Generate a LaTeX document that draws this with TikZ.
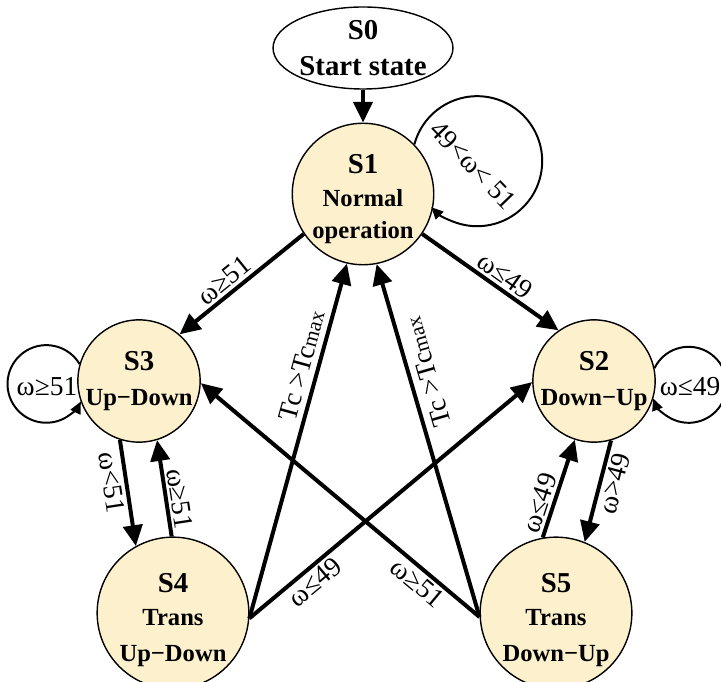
\documentclass[tikz,border=0pt]{standalone}
\usepackage{fontspec}
\setmainfont{Liberation Serif}
\usetikzlibrary{arrows.meta,shapes.geometric}
\definecolor{fsmcream}{RGB}{253,240,204}
\newcommand{\fsmtitlefont}{\linespread{1}\fontsize{20.5}{25}\selectfont\bfseries}
\newcommand{\fsmfont}{\linespread{1}\fontsize{17.5}{23}\selectfont\bfseries}
\newcommand{\fsmcondfont}{\linespread{1}\fontsize{19.5}{22}\selectfont}
\newcommand{\fsmmax}{{\fontsize{15}{17}\selectfont max}}
\tikzset{
    fsm/chart/.style={every node/.style={align=center}},
    fsm/state/.style={circle, draw=black, fill=fsmcream, line width=1pt, inner sep=0pt, font=\fsmfont},
    fsm/start/.style={ellipse, draw=black, fill=white, line width=1pt, minimum width=4.4cm, minimum height=2.05cm, inner sep=0pt, font=\fsmtitlefont},
    fsm/arrow/.style={-{Triangle[length=0.52cm,width=0.48cm]}, line width=2.85pt, draw=black},
    fsm/loop/.style={-{Triangle[length=0.3cm,width=0.27cm]}, line width=1.4pt, draw=black},
    fsm/label/.style={font=\fsmcondfont, inner sep=2pt}
}

\begin{document}
\begin{tikzpicture}[fsm/chart]
    \useasboundingbox (0,0) rectangle (18.025,17.025);
    \node[fsm/start] (s0) at (9.075,15.825) {S0\\Start state};
    \node[fsm/state, minimum size=3.3cm] (s1) at (9.075,12.175) {{\fsmtitlefont\rule{0pt}{21pt}S1}\\Normal\\operation};
    \node[fsm/state, minimum size=3.0cm] (s3) at (3.475,7.5) {{\fsmtitlefont S3}\\[2pt]Up−Down};
    \node[fsm/state, minimum size=3.05cm] (s2) at (14.85,7.5) {{\fsmtitlefont S2}\\[2pt]Down−Up};
    \node[fsm/state, minimum size=3.35cm] (s4) at (4.325,1.7) {{\fsmtitlefont\rule{0pt}{24pt}S4}\\Trans\\[3pt]Up−Down};
    \node[fsm/state, minimum size=3.45cm] (s5) at (13.9,1.7) {{\fsmtitlefont\rule{0pt}{24pt}S5}\\Trans\\[3pt]Down−Up};
    % self loops
    \draw[fsm/loop] (s1.44) arc[start angle=165, end angle=-135, radius=1.625cm];
    \draw[fsm/loop] (s3.164) arc[start angle=31, end angle=333, radius=0.97cm];
    \draw[fsm/loop] (s2.12) arc[start angle=154, end angle=-159, radius=0.95cm];
    \node[fsm/label, rotate=-46] (loop1) at (11.832,12.9) {49<ω< 51};
    \node[fsm/label] (loop3) at (1.175,7.35) {ω≥51};
    \node[fsm/label] (loop2) at (17.25,7.35) {ω≤49};
    % transitions
    \draw[fsm/arrow] (s0.south) -- (s1.north);
    \draw[fsm/arrow] (s1.214) -- node[fsm/label, sloped, above, pos=0.57] {ω≥51} (s3.49);
    \draw[fsm/arrow] (s1.326) -- node[fsm/label, sloped, above, pos=0.55] {ω≤49} (s2.125);
    \draw[fsm/arrow] (s4.-4) -- node[fsm/label, sloped, above, pos=0.7, inner sep=4pt] {Tc >Tc\fsmmax} (s1.257);
    \draw[fsm/arrow] (s5.183) -- node[fsm/label, sloped, allow upside down, below, pos=0.68, inner sep=5pt] {Tc >Tc\fsmmax} (s1.281);
    \draw[fsm/arrow] (s4.-4) -- node[fsm/label, sloped, below, pos=0.2] {ω≤49} (s2.181);
    \draw[fsm/arrow] (s5.183) -- node[fsm/label, sloped, below, pos=0.19] {ω≥51} (s3.-2);
    \draw[fsm/arrow] (s3.252) -- node[fsm/label, sloped, below, pos=0.38] {ω<51} (s4.119);
    \draw[fsm/arrow] (s4.91) -- node[fsm/label, sloped, above, pos=0.37] {ω≥51} (s3.287);
    \draw[fsm/arrow] (s5.100) -- node[fsm/label, sloped, above, pos=0.31] {ω≤49} (s2.252);
    \draw[fsm/arrow] (s2.286) -- node[fsm/label, sloped, below, pos=0.39] {ω>49} (s5.68);
\end{tikzpicture}
\end{document}
